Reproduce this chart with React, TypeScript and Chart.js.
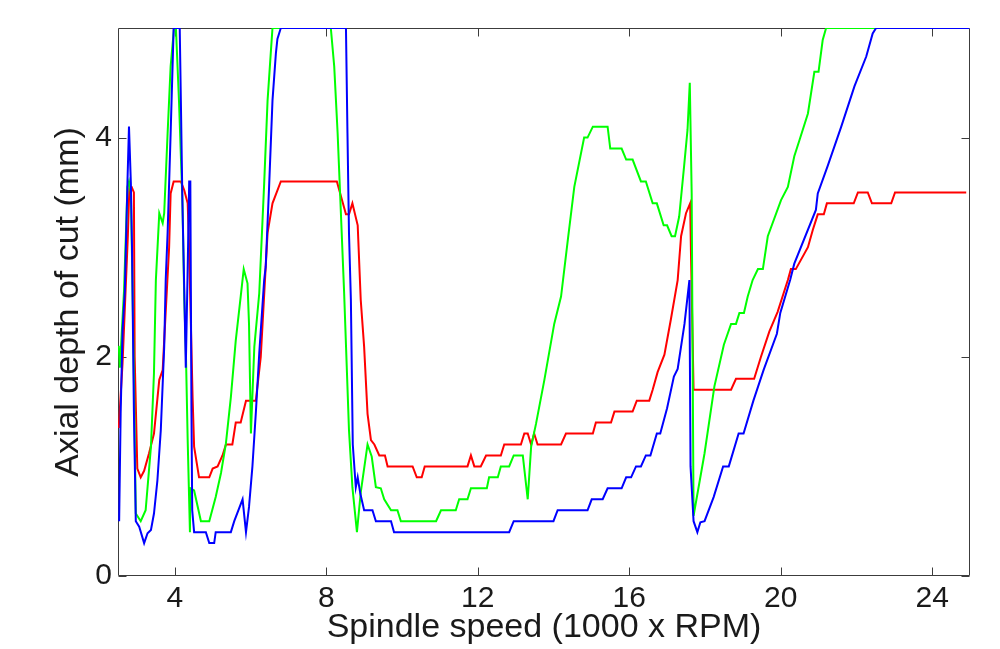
import React, { useEffect, useRef } from 'react';
import { Chart, registerables } from 'chart.js';

Chart.register(...registerables);

// Tick values
const xTickValues = [4, 8, 12, 16, 20, 24];
const yTickValues = [0, 2, 4];

// Axis ranges
const xRange = [2.5, 25];
const yRange = [0, 5];

// Series: [spindle speed (1000 RPM), axial depth of cut (mm)]
const blueSeries: number[][] = [
  [2.53, 0.5], [2.57, 1.48], [2.62, 2.24], [2.68, 2.6], [2.75, 3.6], [2.79, 4.1], [2.84, 3.58], [2.87, 3.0],
  [2.92, 1.5], [2.97, 0.5], [3.06, 0.45], [3.19, 0.3], [3.28, 0.39], [3.37, 0.42], [3.45, 0.57], [3.54, 0.87],
  [3.63, 1.33], [3.72, 2.09], [3.76, 2.7], [3.81, 3.13], [3.89, 4.04], [3.97, 5.0], [4.13, 5.0], [4.16, 4.34],
  [4.2, 3.43], [4.25, 2.61], [4.29, 1.9], [4.34, 2.8], [4.38, 3.6], [4.41, 3.6], [4.44, 1.5], [4.46, 0.6],
  [4.51, 0.4], [4.82, 0.4], [4.91, 0.3], [5.04, 0.3], [5.08, 0.4], [5.48, 0.4], [5.57, 0.5], [5.79, 0.7],
  [5.88, 0.4], [5.96, 0.63], [6.05, 1.0], [6.14, 1.49], [6.23, 2.03], [6.36, 2.7], [6.4, 2.82], [6.49, 3.55],
  [6.58, 4.34], [6.67, 4.77], [6.71, 4.9], [6.8, 5.0], [8.52, 5.0], [8.56, 4.04], [8.6, 3.13], [8.65, 2.52],
  [8.7, 1.2], [8.78, 0.81], [8.83, 0.9], [8.9, 0.75], [9.0, 0.6], [9.22, 0.6], [9.31, 0.5], [9.71, 0.5],
  [9.79, 0.4], [12.83, 0.4], [12.95, 0.5], [14.0, 0.5], [14.11, 0.6], [14.9, 0.6], [15.01, 0.7], [15.3, 0.7],
  [15.43, 0.8], [15.8, 0.8], [15.92, 0.9], [16.05, 0.9], [16.18, 1.0], [16.31, 1.0], [16.44, 1.1], [16.56, 1.1],
  [16.73, 1.3], [16.82, 1.3], [17.0, 1.53], [17.18, 1.82], [17.28, 1.89], [17.46, 2.3], [17.59, 2.7], [17.62, 1.0],
  [17.7, 0.5], [17.8, 0.4], [17.88, 0.49], [17.99, 0.5], [18.23, 0.72], [18.48, 1.0], [18.63, 1.0], [18.89, 1.3],
  [19.02, 1.3], [19.28, 1.6], [19.55, 1.88], [19.9, 2.21], [19.99, 2.4], [20.25, 2.7], [20.36, 2.85], [20.93, 3.34],
  [20.98, 3.49], [21.24, 3.74], [21.6, 4.1], [21.95, 4.47], [22.26, 4.74], [22.43, 4.95], [22.52, 5.0], [24.98, 5.0],
];

const greenSeries: number[][] = [
  [2.52, 2.1], [2.55, 1.9], [2.66, 2.61], [2.75, 3.55], [2.79, 3.6], [2.84, 3.5], [2.88, 2.7], [2.92, 1.8],
  [2.97, 0.57], [3.1, 0.5], [3.23, 0.6], [3.37, 1.18], [3.45, 1.85], [3.5, 2.7], [3.59, 3.31], [3.68, 3.22],
  [3.72, 3.31], [3.81, 4.04], [3.89, 4.65], [3.98, 5.0], [4.03, 5.0], [4.11, 4.34], [4.2, 3.43], [4.25, 2.52],
  [4.29, 2.09], [4.34, 1.24], [4.4, 0.4], [4.41, 0.8], [4.51, 0.78], [4.69, 0.5], [4.91, 0.5], [5.08, 0.72],
  [5.22, 0.94], [5.35, 1.21], [5.48, 1.63], [5.61, 2.15], [5.74, 2.55], [5.82, 2.8], [5.92, 2.67], [5.96, 2.3],
  [6.01, 1.3], [6.1, 2.09], [6.23, 2.58], [6.36, 3.58], [6.45, 4.34], [6.54, 4.8], [6.58, 5.0], [8.12, 5.0],
  [8.21, 4.65], [8.3, 4.04], [8.39, 3.28], [8.47, 2.6], [8.6, 1.33], [8.69, 0.81], [8.81, 0.4], [8.91, 0.76],
  [9.09, 1.2], [9.2, 1.09], [9.31, 0.81], [9.44, 0.8], [9.53, 0.7], [9.71, 0.6], [9.88, 0.6], [9.97, 0.5],
  [10.9, 0.5], [11.03, 0.6], [11.42, 0.6], [11.51, 0.7], [11.73, 0.7], [11.82, 0.8], [12.24, 0.8], [12.3, 0.9],
  [12.53, 0.9], [12.61, 1.0], [12.83, 1.0], [12.95, 1.1], [13.19, 1.1], [13.32, 0.7], [13.41, 1.18], [13.54, 1.39],
  [13.76, 1.79], [14.02, 2.3], [14.2, 2.55], [14.38, 3.07], [14.55, 3.55], [14.81, 4.0], [14.9, 4.0], [15.04, 4.1],
  [15.43, 4.1], [15.5, 3.9], [15.8, 3.9], [15.92, 3.8], [16.09, 3.8], [16.31, 3.6], [16.44, 3.6], [16.62, 3.4],
  [16.73, 3.4], [16.91, 3.2], [17.0, 3.2], [17.12, 3.1], [17.21, 3.1], [17.32, 3.28], [17.45, 3.74], [17.54, 4.07],
  [17.6, 4.5], [17.65, 3.49], [17.68, 1.7], [17.7, 0.55], [17.99, 1.12], [18.25, 1.73], [18.5, 2.11], [18.69, 2.3],
  [18.82, 2.3], [18.91, 2.4], [19.03, 2.4], [19.13, 2.55], [19.26, 2.7], [19.4, 2.8], [19.53, 2.8], [19.66, 3.1],
  [20.01, 3.43], [20.19, 3.55], [20.36, 3.83], [20.5, 3.98], [20.72, 4.22], [20.89, 4.6], [21.0, 4.6], [21.11, 4.89],
  [21.2, 5.0], [24.9, 5.0],
];

const redSeries: number[][] = [
  [2.52, 1.35], [2.62, 1.94], [2.76, 3.1], [2.8, 3.55], [2.86, 3.55], [2.92, 3.5], [2.94, 2.0], [3.01, 0.98],
  [3.1, 0.9], [3.19, 0.96], [3.32, 1.12], [3.45, 1.3], [3.59, 1.79], [3.68, 1.88], [3.72, 2.15], [3.85, 3.0],
  [3.89, 3.49], [3.97, 3.6], [4.16, 3.6], [4.25, 3.52], [4.34, 3.4], [4.37, 3.1], [4.47, 1.63], [4.51, 1.18],
  [4.64, 0.9], [4.91, 0.9], [5.0, 0.98], [5.13, 1.0], [5.26, 1.1], [5.35, 1.2], [5.52, 1.2], [5.61, 1.4],
  [5.74, 1.4], [5.88, 1.6], [6.14, 1.6], [6.27, 2.0], [6.45, 3.13], [6.58, 3.4], [6.8, 3.6], [8.28, 3.6],
  [8.52, 3.3], [8.6, 3.3], [8.69, 3.4], [8.83, 3.2], [8.91, 2.52], [9.0, 2.09], [9.09, 1.48], [9.18, 1.24],
  [9.27, 1.2], [9.4, 1.1], [9.55, 1.1], [9.62, 1.0], [10.28, 1.0], [10.39, 0.9], [10.52, 0.9], [10.6, 1.0],
  [11.73, 1.0], [11.82, 1.1], [11.91, 1.0], [12.08, 1.0], [12.22, 1.1], [12.61, 1.1], [12.7, 1.2], [13.14, 1.2],
  [13.23, 1.3], [13.32, 1.3], [13.41, 1.2], [13.49, 1.3], [13.58, 1.2], [14.2, 1.2], [14.33, 1.3], [15.04, 1.3],
  [15.12, 1.4], [15.52, 1.4], [15.61, 1.5], [16.09, 1.5], [16.2, 1.6], [16.53, 1.6], [16.62, 1.7], [16.75, 1.86],
  [16.93, 2.02], [17.1, 2.34], [17.28, 2.7], [17.37, 3.1], [17.5, 3.31], [17.61, 3.4], [17.63, 2.97], [17.7, 1.7],
  [18.69, 1.7], [18.82, 1.8], [19.3, 1.8], [19.48, 2.0], [19.7, 2.23], [19.92, 2.41], [20.19, 2.7], [20.27, 2.8],
  [20.4, 2.8], [20.72, 3.0], [20.85, 3.16], [20.98, 3.3], [21.14, 3.3], [21.22, 3.4], [21.93, 3.4], [22.04, 3.5],
  [22.3, 3.5], [22.41, 3.4], [22.92, 3.4], [23.02, 3.5], [24.9, 3.5],
];

const xTitle = 'Spindle speed (1000 x RPM)';
const yTitle = 'Axial depth of cut (mm)';

const FONT = '"Liberation Sans", Arial, Helvetica, sans-serif';

const toPoints = (s: number[][]) => s.map(([x, y]) => ({ x, y }));

const boxPlugin = {
  id: 'matlabBox',
  beforeDatasetsDraw(chart: any) {
    const { ctx, chartArea: a, scales } = chart;
    const L = Math.round(a.left) + 0.5;
    const R = Math.round(a.right) - 0.5;
    const T = Math.round(a.top) + 0.5;
    const B = Math.round(a.bottom) - 0.5;
    const len = 8;
    ctx.save();
    ctx.strokeStyle = '#3c3c3c';
    ctx.lineWidth = 1;
    ctx.beginPath();
    ctx.rect(L, T, R - L, B - T);
    ctx.stroke();
    ctx.beginPath();
    xTickValues.forEach((v) => {
      const px = Math.round(scales.x.getPixelForValue(v)) + 0.5;
      ctx.moveTo(px, B);
      ctx.lineTo(px, B - len);
      ctx.moveTo(px, T);
      ctx.lineTo(px, T + len);
    });
    yTickValues.forEach((v) => {
      const py = Math.round(scales.y.getPixelForValue(v)) + 0.5;
      ctx.moveTo(L, py);
      ctx.lineTo(L + len, py);
      ctx.moveTo(R, py);
      ctx.lineTo(R - len, py);
    });
    ctx.stroke();
    ctx.restore();
  },
};

export default function App() {
  const canvasRef = useRef<HTMLCanvasElement | null>(null);

  useEffect(() => {
    if (!canvasRef.current) return;
    const common = {
      borderWidth: 2,
      pointRadius: 0,
      pointHoverRadius: 0,
      tension: 0,
      fill: false,
    };
    const chart = new Chart(canvasRef.current, {
      type: 'line',
      data: {
        datasets: [
          { ...common, label: 'blue', data: toPoints(blueSeries), borderColor: '#0000ff' },
          { ...common, label: 'green', data: toPoints(greenSeries), borderColor: '#00ff00' },
          { ...common, label: 'red', data: toPoints(redSeries), borderColor: '#ff0000' },
        ],
      },
      options: {
        responsive: false,
        animation: false,
        devicePixelRatio: 1,
        events: [],
        layout: { padding: { left: 0, right: 30, top: 28, bottom: 0 } },
        plugins: {
          legend: { display: false },
          tooltip: { enabled: false },
          title: { display: false },
        },
        scales: {
          x: {
            type: 'linear',
            min: xRange[0],
            max: xRange[1],
            afterBuildTicks: (s: any) => {
              s.ticks = xTickValues.map((v) => ({ value: v }));
            },
            afterFit: (s: any) => {
              s.height = 73;
            },
            grid: { display: false, drawTicks: false },
            border: { display: false },
            ticks: {
              padding: 5,
              color: '#1a1a1a',
              font: { family: FONT, size: 30 },
              maxRotation: 0,
              autoSkip: false,
            },
            title: {
              display: true,
              text: xTitle,
              color: '#1a1a1a',
              font: { family: FONT, size: 34 },
              padding: { top: 0, bottom: 1 },
            },
          },
          y: {
            type: 'linear',
            min: yRange[0],
            max: yRange[1],
            afterBuildTicks: (s: any) => {
              s.ticks = yTickValues.map((v) => ({ value: v }));
            },
            afterFit: (s: any) => {
              s.width = 118;
            },
            grid: { display: false, drawTicks: false },
            border: { display: false },
            ticks: {
              padding: 6,
              color: '#1a1a1a',
              font: { family: FONT, size: 30 },
              autoSkip: false,
            },
            title: {
              display: true,
              text: yTitle,
              color: '#1a1a1a',
              font: { family: FONT, size: 34 },
              padding: { top: 48, bottom: 0 },
            },
          },
        },
      },
      plugins: [boxPlugin],
    } as any);
    return () => chart.destroy();
  }, []);

  return (
    <div style={{ position: 'absolute', left: 0, top: 0, width: 1000, height: 649, background: '#ffffff' }}>
      <canvas ref={canvasRef} width={1000} height={649} style={{ width: 1000, height: 649, display: 'block' }} />
    </div>
  );
}
